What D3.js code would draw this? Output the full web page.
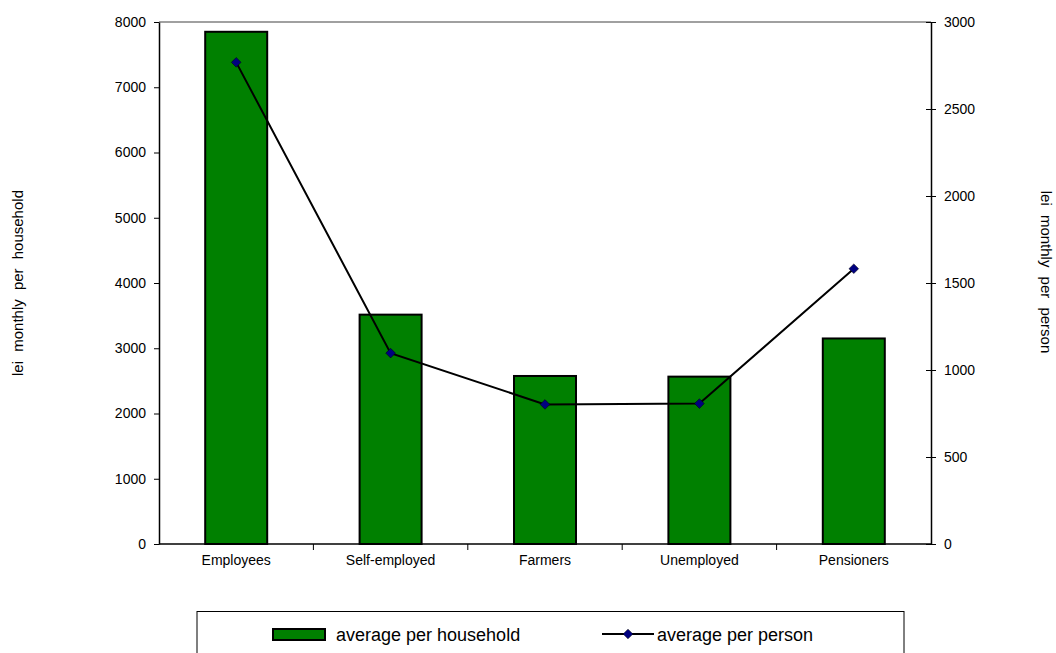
<!DOCTYPE html>
<html><head><meta charset="utf-8">
<script src="https://cdn.jsdelivr.net/npm/d3@7"></script>
<style>body{margin:0;background:#fff}svg{font-family:"Liberation Sans",Arial,sans-serif}</style>
</head><body><svg id="c" width="1056" height="653"></svg>
<script>
const categories = ["Employees","Self-employed","Farmers","Unemployed","Pensioners"];
const perHousehold = [7850, 3515, 2575, 2565, 3150];
const perPerson = [2768, 1097, 802, 807, 1582];
const leftTicks = [0,1000,2000,3000,4000,5000,6000,7000,8000];
const rightTicks = [0,500,1000,1500,2000,2500,3000];

const svg = d3.select("#c");
const L = 159, R = 931, T = 22, B = 544;
const x = d3.scaleBand().domain(categories).range([L, R]);
const yL = d3.scaleLinear().domain([0, 8000]).range([B, T]);
const yR = d3.scaleLinear().domain([0, 3000]).range([B, T]);
const cx = d => x(d) + x.bandwidth()/2;
const FF = "Liberation Sans, Arial, sans-serif";

// top border
svg.append("line").attr("x1", L).attr("x2", R).attr("y1", T).attr("y2", T).attr("stroke", "#808080").attr("stroke-width", 1.5);

// bars
svg.selectAll("rect.bar").data(categories).enter().append("rect")
  .attr("x", d => cx(d) - 31)
  .attr("width", 62)
  .attr("y", (d,i) => yL(perHousehold[i]))
  .attr("height", (d,i) => B - yL(perHousehold[i]))
  .attr("fill", "#008000").attr("stroke", "#000").attr("stroke-width", 2);

// axes
const gL = svg.append("g").attr("transform", `translate(${L},0)`)
  .call(d3.axisLeft(yL).tickValues(leftTicks).tickFormat(d3.format("d")).tickSize(5).tickSizeOuter(0).tickPadding(8));
const gR = svg.append("g").attr("transform", `translate(${R},0)`)
  .call(d3.axisRight(yR).tickValues(rightTicks).tickFormat(d3.format("d")).tickSize(5).tickSizeOuter(0).tickPadding(8));
[gL, gR].forEach(g => {
  g.selectAll(".tick line").attr("stroke", "#000");
  g.select(".domain").attr("stroke", "#000").attr("stroke-width", 1.5);
  g.selectAll("text").attr("font-size", 14).attr("fill", "#000").attr("font-family", FF);
});
gL.selectAll(".tick line").attr("x1", -5).attr("x2", 0);
gR.selectAll(".tick line").attr("x1", -5).attr("x2", 5);

const gX = svg.append("g").attr("transform", `translate(0,${B})`)
  .call(d3.axisBottom(x).tickSize(0).tickPadding(11));
gX.select(".domain").remove();
gX.selectAll("text").attr("font-size", 14).attr("fill", "#000").attr("font-family", FF);
svg.append("line").attr("x1", L).attr("x2", R).attr("y1", B).attr("y2", B).attr("stroke", "#000").attr("stroke-width", 1.5);
// category separator ticks
svg.selectAll("line.sep").data(categories.slice(1)).enter().append("line")
  .attr("x1", d => x(d)).attr("x2", d => x(d)).attr("y1", B).attr("y2", B + 6)
  .attr("stroke", "#000");

// line
const line = d3.line().x((d,i) => cx(categories[i])).y(d => yR(d));
svg.append("path").datum(perPerson).attr("d", line).attr("fill", "none").attr("stroke", "#000").attr("stroke-width", 2);
svg.selectAll("path.mk").data(perPerson).enter().append("path")
  .attr("d", d3.symbol().type(d3.symbolDiamond2).size(60))
  .attr("transform", (d,i) => `translate(${cx(categories[i])},${yR(d)})`)
  .attr("fill", "#000080").attr("stroke", "#000").attr("stroke-width", 0.5);

// axis titles
svg.append("text").attr("transform", "translate(23,283) rotate(-90)").attr("text-anchor", "middle")
  .attr("font-size", 15).attr("word-spacing", 5).text("lei monthly per household");
svg.append("text").attr("transform", "translate(1041,272) rotate(90)").attr("text-anchor", "middle")
  .attr("font-size", 15).attr("word-spacing", 5).text("lei monthly per person");

// legend
const lg = svg.append("g");
lg.append("rect").attr("x", 197).attr("y", 611.5).attr("width", 707).attr("height", 50).attr("fill", "none").attr("stroke", "#000").attr("stroke-width", 1);
lg.append("rect").attr("x", 273).attr("y", 629).attr("width", 52).attr("height", 11).attr("fill", "#008000").attr("stroke", "#000").attr("stroke-width", 2);
lg.append("text").attr("x", 336).attr("y", 641).attr("font-size", 18).text("average per household");
lg.append("line").attr("x1", 602).attr("x2", 654).attr("y1", 634).attr("y2", 634).attr("stroke", "#000").attr("stroke-width", 2);
lg.append("path").attr("d", d3.symbol().type(d3.symbolDiamond2).size(60)).attr("transform", "translate(628,634)")
  .attr("fill", "#000080").attr("stroke", "#000").attr("stroke-width", 0.5);
lg.append("text").attr("x", 657).attr("y", 641).attr("font-size", 18).text("average per person");
</script></body></html>
